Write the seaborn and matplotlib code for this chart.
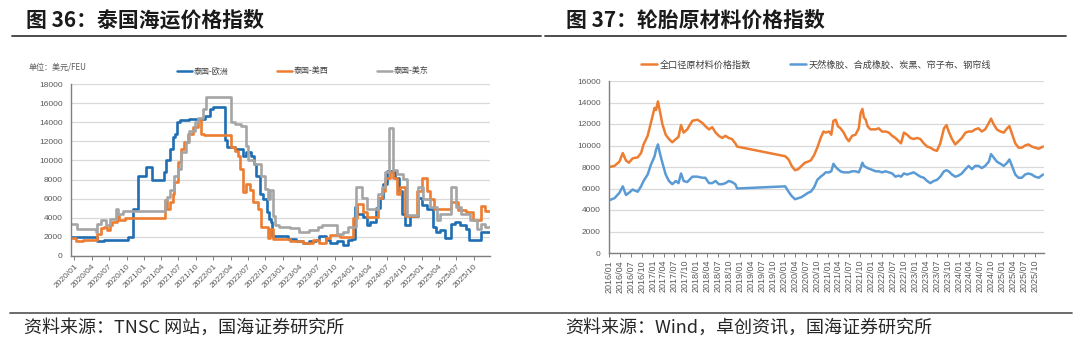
import matplotlib
matplotlib.use("Agg")
import matplotlib.pyplot as plt
from matplotlib.lines import Line2D
import pandas as pd
import seaborn as sns

sns.set_theme(style="white")
plt.rcParams["font.family"] = ["Liberation Sans", "Noto Sans CJK SC"]
plt.rcParams["axes.unicode_minus"] = False

# ---------------- 图36：泰国海运价格指数（美元/FEU） ----------------
routes = ["泰国-欧洲", "泰国-美西", "泰国-美东"]
route_colors = ["#1F6EB3", "#ED7D31", "#A5A5A5"]

eu_dates = ["2019-12-14", "2020-05-01", "2020-06-04", "2020-10-07", "2020-11-04", "2020-12-01",
            "2021-01-13", "2021-02-13", "2021-04-16", "2021-04-28", "2021-05-19", "2021-06-01",
            "2021-06-13", "2021-06-25", "2021-07-07", "2021-08-28", "2021-11-16", "2021-12-13",
            "2021-12-28", "2022-03-01", "2022-03-13", "2022-04-22", "2022-06-04", "2022-06-22",
            "2022-07-19", "2022-08-01", "2022-08-13", "2022-09-01", "2022-09-19", "2022-10-07",
            "2022-10-22", "2022-11-01", "2022-11-07", "2023-01-28", "2023-03-10", "2023-04-16",
            "2023-05-19", "2023-06-25", "2023-07-10", "2023-08-16", "2023-09-04", "2023-10-10",
            "2023-11-13", "2023-12-10", "2023-12-28", "2024-01-16", "2024-01-25", "2024-02-28",
            "2024-03-19", "2024-04-04", "2024-05-07", "2024-05-25", "2024-06-13", "2024-07-04",
            "2024-08-13", "2024-09-01", "2024-09-19", "2024-10-04", "2024-11-01", "2024-12-10",
            "2025-01-01", "2025-01-28", "2025-03-01", "2025-03-16", "2025-04-04", "2025-05-01",
            "2025-06-01", "2025-06-25", "2025-07-19", "2025-08-19", "2025-09-04", "2025-11-10",
            "2025-12-25"]
eu_vals = [2000, 1500, 1700, 2000, 4900, 8400,
           9300, 7900, 8800, 10000, 11200, 12500,
           12800, 14000, 14200, 14400, 14700, 15400,
           15600, 12200, 11400, 11200, 10500, 10900,
           10500, 9600, 8400, 6500, 6000, 4600,
           3900, 3500, 2100, 1800, 1500, 1300,
           1500, 1700, 2100, 1600, 1300, 1500,
           1100, 1600, 1800, 5100, 4400, 4100,
           3200, 3500, 5000, 6100, 7500, 8900,
           8200, 6800, 4400, 3200, 4200, 6100,
           5300, 4900, 3000, 2500, 2700, 1900,
           3300, 3500, 3200, 2800, 1600, 2500,
           2500]

wc_dates = ["2019-12-14", "2020-01-10", "2020-02-13", "2020-05-01", "2020-05-19", "2020-06-04",
            "2020-06-22", "2020-07-04", "2020-07-19", "2020-08-13", "2020-08-25", "2020-09-22",
            "2021-04-19", "2021-05-04", "2021-05-19", "2021-06-01", "2021-06-10", "2021-06-28",
            "2021-07-16", "2021-08-01", "2021-08-22", "2021-09-16", "2021-10-10", "2021-10-28",
            "2021-11-13", "2022-04-01", "2022-04-22", "2022-05-10", "2022-05-22", "2022-06-04",
            "2022-06-22", "2022-07-10", "2022-07-28", "2022-08-22", "2022-09-10", "2022-10-13",
            "2022-10-25", "2022-11-10", "2023-02-07", "2023-04-16", "2023-06-07", "2023-07-10",
            "2023-08-16", "2023-09-04", "2023-10-28", "2024-01-07", "2024-01-25", "2024-02-28",
            "2024-03-16", "2024-05-16", "2024-06-04", "2024-06-22", "2024-07-16", "2024-08-04",
            "2024-08-22", "2024-09-10", "2024-10-04", "2024-12-07", "2025-01-01", "2025-01-28",
            "2025-02-13", "2025-03-07", "2025-06-04", "2025-07-10", "2025-08-22", "2025-09-28",
            "2025-11-07", "2025-11-28", "2025-12-25"]
wc_vals = [1900, 1500, 1700, 2300, 2900, 3000,
           2700, 3200, 3500, 4200, 3800, 4000,
           5800, 4900, 5600, 6500, 7700, 9800,
           11200, 11900, 12800, 13500, 14200, 12800,
           12700, 11400, 11000, 10500, 9100, 6700,
           7500, 6900, 5600, 4900, 3000, 1900,
           2800, 1800, 1500, 1300, 1600, 1300,
           1900, 2200, 2000, 4000, 5400, 4600,
           4100, 6100, 6800, 8200, 8800, 8200,
           6500, 7200, 4200, 6800, 8200, 6800,
           6000, 4900, 5600, 4800, 4600, 3800,
           5200, 4700, 4700]

ec_dates = ["2019-12-14", "2020-01-16", "2020-04-22", "2020-05-01", "2020-05-22", "2020-06-16",
            "2020-07-04", "2020-08-07", "2020-08-19", "2020-09-13", "2021-04-19", "2021-05-04",
            "2021-05-19", "2021-06-10", "2021-06-28", "2021-07-16", "2021-08-10", "2021-08-28",
            "2021-09-25", "2021-10-10", "2021-11-07", "2021-11-25", "2022-04-04", "2022-04-22",
            "2022-05-25", "2022-06-22", "2022-07-01", "2022-08-04", "2022-09-10", "2022-09-28",
            "2022-10-13", "2022-10-25", "2022-11-10", "2022-11-19", "2022-12-13", "2023-02-07",
            "2023-03-28", "2023-05-19", "2023-07-04", "2023-07-28", "2023-10-10", "2023-11-13",
            "2023-12-10", "2024-01-19", "2024-02-19", "2024-03-16", "2024-05-16", "2024-06-04",
            "2024-06-22", "2024-07-13", "2024-08-01", "2024-08-22", "2024-09-25", "2024-10-13",
            "2024-12-10", "2025-01-07", "2025-02-13", "2025-03-19", "2025-04-04", "2025-06-04",
            "2025-07-01", "2025-07-28", "2025-09-10", "2025-10-16", "2025-11-10", "2025-12-01",
            "2025-12-25"]
ec_vals = [3300, 2850, 2500, 3300, 3700, 3200,
           3900, 4900, 4400, 4700, 5800, 6200,
           6900, 8400, 9100, 10900, 11900, 13100,
           14000, 14500, 15400, 16700, 14000, 13800,
           13600, 11500, 10000, 9600, 8400, 7000,
           6000, 6900, 4200, 3200, 3000, 2900,
           2500, 2700, 3000, 3200, 2300, 2500,
           3000, 7200, 6100, 4900, 6500, 7200,
           8800, 13400, 9000, 8600, 8100, 4300,
           7200, 6000, 5100, 3700, 4400, 7200,
           5100, 4400, 3700, 2800, 3300, 3000,
           3000]

ship_ticks = pd.date_range("2020-01-01", "2025-10-01", freq="3MS")
ship_yticks = list(range(0, 18001, 2000))

# ---------------- 图37：轮胎原材料价格指数 ----------------
mat_series = ["全口径原材料价格指数", "天然橡胶、合成橡胶、炭黑、帘子布、钢帘线"]
mat_colors = ["#ED7D31", "#5B9BD5"]

mat_dates = ["2016-01-01", "2016-02-16", "2016-03-28", "2016-04-25", "2016-05-22", "2016-06-16",
             "2016-07-16", "2016-08-28", "2016-09-25", "2016-10-16", "2016-11-19", "2016-12-16",
             "2017-01-16", "2017-01-28", "2017-02-13", "2017-03-01", "2017-03-22", "2017-04-19",
             "2017-05-16", "2017-06-13", "2017-07-13", "2017-08-04", "2017-08-25", "2017-09-16",
             "2017-10-16", "2017-11-28", "2018-01-10", "2018-02-19", "2018-03-16", "2018-04-16",
             "2018-05-13", "2018-06-10", "2018-07-07", "2018-08-04", "2018-09-01", "2018-09-28",
             "2018-10-25", "2018-11-22", "2018-12-07", "2020-01-13", "2020-02-10", "2020-03-07",
             "2020-04-04", "2020-05-01", "2020-05-28", "2020-06-25", "2020-07-22", "2020-08-13",
             "2020-09-10", "2020-10-07", "2020-11-04", "2020-11-28", "2020-12-16", "2021-01-13",
             "2021-02-01", "2021-02-19", "2021-03-10", "2021-03-28", "2021-04-19", "2021-05-16",
             "2021-06-07", "2021-06-28", "2021-07-25", "2021-08-22", "2021-09-19", "2021-10-04",
             "2021-10-19", "2021-11-01", "2021-11-16", "2021-12-01", "2021-12-25", "2022-02-07",
             "2022-03-04", "2022-04-01", "2022-05-01", "2022-05-28", "2022-06-25", "2022-07-22",
             "2022-08-19", "2022-09-07", "2022-10-01", "2022-10-28", "2022-11-25", "2022-12-22",
             "2023-01-19", "2023-02-16", "2023-03-16", "2023-04-13", "2023-05-10", "2023-06-07",
             "2023-07-04", "2023-08-01", "2023-09-01", "2023-09-22", "2023-10-10", "2023-11-07",
             "2023-12-04", "2024-01-01", "2024-01-28", "2024-02-28", "2024-03-25", "2024-04-22",
             "2024-05-19", "2024-06-16", "2024-07-13", "2024-08-10", "2024-09-10", "2024-09-28",
             "2024-10-19", "2024-11-16", "2024-12-16", "2025-01-13", "2025-02-10", "2025-03-01",
             "2025-03-19", "2025-04-19", "2025-05-16", "2025-06-13", "2025-07-10", "2025-08-07",
             "2025-09-04", "2025-10-01", "2025-11-01", "2025-12-07"]
all_idx = [8000, 8100, 8500, 9300, 8600, 8400,
           8800, 8900, 9300, 10100, 10900, 12100,
           13500, 13300, 14100, 13200, 12000, 11000,
           10600, 10300, 10600, 10800, 11900, 11200,
           11500, 12300, 12400, 12100, 11800, 11500,
           11700, 11200, 10900, 10700, 10900, 10700,
           10600, 10200, 9900, 9000, 8700, 8100,
           7700, 7800, 8100, 8400, 8500, 8600,
           9100, 9800, 10700, 11300, 11200, 11300,
           11000, 12300, 12400, 11800, 11600, 11200,
           10700, 10400, 10900, 11000, 11600, 13000,
           13400, 12600, 12400, 11800, 11500, 11500,
           11600, 11300, 11300, 11200, 10900, 10700,
           10400, 10200, 11200, 11000, 10700, 10600,
           10700, 10600, 10200, 9900, 9800, 9600,
           9500, 10200, 11600, 11900, 11300, 10600,
           10100, 10400, 10700, 11200, 11300, 11300,
           11500, 11600, 11300, 11500, 12100, 12500,
           12000, 11500, 11300, 11200, 11600, 11800,
           11200, 10200, 9800, 9800, 10000, 10100,
           9900, 9800, 9700, 9900]
rubber_idx = [4900, 5100, 5600, 6200, 5400, 5600,
              5900, 5700, 6200, 6700, 7300, 8200,
              9000, 9600, 10100, 9300, 8400, 7300,
              6700, 6400, 6700, 6500, 7400, 6700,
              6600, 7100, 7100, 7000, 7000, 6500,
              6500, 6700, 6400, 6400, 6500, 6700,
              6600, 6400, 6000, 6200, 5700, 5300,
              5000, 5100, 5200, 5400, 5600, 5700,
              6100, 6800, 7100, 7300, 7500, 7500,
              7600, 8300, 8000, 7800, 7600, 7500,
              7500, 7500, 7600, 7600, 7500, 7900,
              8400, 8100, 8000, 7900, 7800, 7600,
              7600, 7500, 7600, 7500, 7400, 7100,
              7200, 7100, 7400, 7300, 7400, 7500,
              7300, 7100, 7000, 6700, 6500, 6700,
              6800, 7100, 7600, 7700, 7600, 7300,
              7100, 7200, 7400, 7800, 8100, 7800,
              8100, 8100, 7900, 8100, 8500, 9200,
              8900, 8500, 8300, 8100, 8400, 8700,
              8200, 7300, 7000, 7000, 7300, 7400,
              7300, 7100, 7000, 7300]

mat_ticks = pd.date_range("2016-01-01", "2025-10-01", freq="3MS")
mat_yticks = list(range(0, 16001, 2000))

# ---------------- figure layout ----------------
W, H = 1080, 348
fig = plt.figure(figsize=(W / 100, H / 100), dpi=100)
fig.patch.set_facecolor("white")


def box(x0, y_top, x1, y_bot):
    return [x0 / W, 1 - y_bot / H, (x1 - x0) / W, (y_bot - y_top) / H]


def fx(x):
    return x / W


def fy(y):
    return 1 - y / H


ax1 = fig.add_axes(box(71, 84.3, 490, 255.7))
ax2 = fig.add_axes(box(609, 81, 1044, 253))

grid_c = "#D9D9D9"
spine_c = "#7F7F7F"
tick_c = "#595959"
cjk = ["Noto Sans CJK SC", "DejaVu Sans"]

# left panel
ship = pd.concat([
    pd.DataFrame({"date": pd.to_datetime(d), "value": v, "route": r})
    for d, v, r in [(eu_dates, eu_vals, routes[0]),
                    (wc_dates, wc_vals, routes[1]),
                    (ec_dates, ec_vals, routes[2])]
], ignore_index=True)
sns.lineplot(data=ship, x="date", y="value", hue="route", hue_order=routes,
             palette=route_colors, drawstyle="steps-post", linewidth=1.9,
             estimator=None, legend=False, ax=ax1)

# right panel
mat = pd.DataFrame({"date": pd.to_datetime(mat_dates),
                    mat_series[0]: all_idx, mat_series[1]: rubber_idx})
mat_long = mat.melt(id_vars="date", var_name="series", value_name="value")
sns.lineplot(data=mat_long, x="date", y="value", hue="series", hue_order=mat_series,
             palette=mat_colors, linewidth=1.8, estimator=None, legend=False, ax=ax2)

for ax, yt, ymax, xt, x0, x1 in [
        (ax1, ship_yticks, 18000, ship_ticks, "2019-12-14", "2025-12-25"),
        (ax2, mat_yticks, 16000, mat_ticks, "2016-01-01", "2025-12-15")]:
    ax.set_facecolor("white")
    ax.set_ylim(0, ymax)
    ax.set_yticks(yt)
    ax.set_yticklabels([str(v) for v in yt])
    ax.set_xlim(pd.Timestamp(x0), pd.Timestamp(x1))
    ax.set_xticks(xt)
    ax.set_xlabel("")
    ax.set_ylabel("")
    ax.grid(axis="y", color=grid_c, linewidth=0.9)
    ax.grid(axis="x", visible=False)
    ax.set_axisbelow(True)
    for s in ["top", "right"]:
        ax.spines[s].set_visible(False)
    for s in ["left", "bottom"]:
        ax.spines[s].set_color(spine_c)
        ax.spines[s].set_linewidth(1.0)
    ax.tick_params(axis="y", length=0, pad=6, labelsize=6, labelcolor=tick_c)
    ax.tick_params(axis="x", direction="out", length=3, width=0.7, color=spine_c,
                   pad=2, labelsize=6, labelcolor=tick_c, bottom=True)

ax1.set_xticklabels([d.strftime("%Y/%m") for d in ship_ticks], rotation=45,
                    ha="right", rotation_mode="anchor")
ax2.set_xticklabels([d.strftime("%Y/%m") for d in mat_ticks], rotation=90,
                    ha="center", va="top")
ax2.tick_params(axis="x", labelsize=6.5)

# legends
h1 = [Line2D([], [], color=c, lw=1.8) for c in route_colors]
ax1.legend(h1, routes, loc="center", bbox_to_anchor=(fx(303), fy(71)),
           bbox_transform=fig.transFigure, ncol=3, frameon=False,
           prop={"family": cjk, "size": 5.8}, labelcolor="#404040",
           handlelength=1.8, handletextpad=0.3, columnspacing=6.0)
h2 = [Line2D([], [], color=c, lw=1.8) for c in mat_colors]
ax2.legend(h2, mat_series, loc="center", bbox_to_anchor=(fx(816), fy(65)),
           bbox_transform=fig.transFigure, ncol=2, frameon=False,
           prop={"family": cjk, "size": 6.6}, labelcolor="#404040",
           handlelength=1.8, handletextpad=0.3, columnspacing=4.2)

fig.text(fx(29), fy(67), "单位：美元/FEU", fontsize=5.8, color="#595959",
         ha="left", va="center", family=cjk)

# titles and rules
fig.text(fx(26), fy(20), "图 36：泰国海运价格指数", fontsize=15, fontweight="bold",
         color="#1A1A1A", ha="left", va="center", family=cjk)
fig.text(fx(566), fy(20), "图 37：轮胎原材料价格指数", fontsize=15, fontweight="bold",
         color="#1A1A1A", ha="left", va="center", family=cjk)
fig.add_artist(Line2D([fx(12), fx(541)], [fy(35.5)] * 2, color="#3F3F3F", lw=1.3))
fig.add_artist(Line2D([fx(545), fx(1066)], [fy(35.5)] * 2, color="#3F3F3F", lw=1.3))

# source notes
fig.add_artist(Line2D([fx(10), fx(1072)], [fy(313)] * 2, color="#5F5F5F", lw=1.3))
fig.text(fx(24), fy(328), "资料来源：TNSC 网站，国海证券研究所", fontsize=13,
         color="#262626", ha="left", va="center", family=cjk)
fig.text(fx(565), fy(328), "资料来源：Wind，卓创资讯，国海证券研究所", fontsize=13,
         color="#262626", ha="left", va="center", family=cjk)

fig.savefig("out.png", dpi=100, facecolor="white")
